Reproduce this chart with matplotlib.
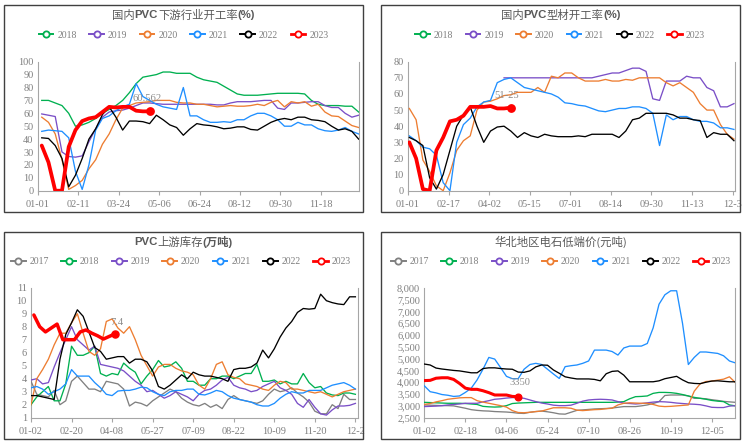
import numpy as np
import matplotlib
matplotlib.use("Agg")
import matplotlib.pyplot as plt
from matplotlib.lines import Line2D
from matplotlib.patches import Rectangle

nan = np.nan

# ---- 国内PVC下游行业开工率(%) ----
tl_years = ["2018", "2019", "2020", "2021", "2022", "2023"]
tl_ticks = ["01-01", "02-11", "03-24", "05-06", "06-24", "08-12", "09-30", "11-18"]
tl_2018 = [70, 70, 68, 66, 60, 50, 51, 53, 56, 60, 63, 66, 70, 76, 83, 88, 89, 90, 92, 92,
           91, 91, 91, 88, 86, 85, 84, 81, 78, 75, 74, 74, 74, 74.5, 75, 75.5, 75.5, 75.5,
           75.5, 75, 70, 67, 66, 66, 66, 65.5, 65.5, 61]
tl_2019 = [59.5, 58.5, 57.5, 30, 26.5, 26, 27, 38, 48, 57, 61, 62, 62.5, 64, 66, 68, 68, 67.5,
           67, 67, 67, 67, 67, 67, 67, 67, 66.5, 66.5, 68, 69, 69, 69, 69.5, 70, 70, 64, 63,
           68, 68, 68.5, 69, 69, 66, 64.5, 64.5, 60, 57, 58.5]
tl_2020 = [57, 53, 44, 24, 1, 4, 8, 17, 24, 36, 44, 55, 64, 66, 68, 68.5, 69, 70, 70, 70,
           68.5, 68, 68, 67, 67, 66, 65, 65.5, 66, 65.5, 65.5, 66, 67, 66, 68.5, 70, 65, 69,
           68, 69, 65.5, 67, 61, 58, 57.5, 54, 50.5, 49]
tl_2021 = [46, 47, 46.5, 46, 41, 15, 1, 20, 47, 56, 58, 62, 65, 67, 83, 73, 70, 67, 65, 64,
           63, 80, 58, 58, 55, 53, 53, 53.5, 53, 55, 55, 58, 60, 60, 58, 55, 50, 50, 53, 51,
           51, 48, 46.5, 46, 47, 49, 46, 44]
tl_2022 = [41, 40.5, 35, 25, 3, 12, 25, 40, 48, 59, 65, 57, 47, 54, 54, 53.5, 52, 58.5, 55, 51,
           49, 43, 48, 52, 51, 50.5, 49.5, 48, 48.5, 49.5, 49.5, 47.5, 47, 50, 53, 55, 56, 55,
           57, 57, 55, 54.5, 53.5, 50, 47, 48, 46, 40]
tl_2023 = [35, 22, 0, 0, 34, 47, 54, 56, 57, 61, 65, 64.5, 65, 65, 62, 61.5, 61.5]

# ---- 国内PVC型材开工率(%) ----
tr_years = ["2018", "2019", "2020", "2021", "2022", "2023"]
tr_ticks = ["01-01", "02-17", "04-02", "05-15", "07-01", "08-14", "09-30", "11-13", "12-3"]
tr_2018 = []
tr_2019 = [nan] * 14 + [70] * 14 + [71, 72, 73, 73, 74.5, 76, 76, 74, 57, 56, 68, 68, 68, 71,
                                    70, 70, 64, 62, 52, 52, 54]
tr_2020 = [51, 44, 19, 12, 3, 0, 11, 25, 31, 34, 50, 55, 55.5, 57, 59, 59.5, 61, 61, 61, 64,
           61, 71, 70, 73, 73, 70, 68, 68, 68, 69, 68, 68, 69, 68.5, 70, 70, 70, 70, 67, 65,
           67, 64, 61, 54, 50, 50, 41, 35, 32]
tr_2021 = [34, 31, 27, 26, 22, 5, 0, 30, 41, 45, 52, 55, 56, 67, 69, 70, 67, 64, 63, 62,
           61, 60, 58, 54.5, 54, 53, 52.5, 51, 49.5, 49, 50, 51, 51, 52, 52, 51, 48, 28, 47, 44,
           46, 46, 44, 43, 43, 42, 39, 39, 38]
tr_2022 = [33, 31, 28, 8, 1, 10, 25, 40, 47, 52, 40, 30, 37, 39.5, 40, 37, 33, 36, 34, 33,
           35, 34, 33.5, 33.5, 33.5, 34, 33.5, 35, 35, 35, 35, 33, 37, 44, 45, 48, 48, 48, 48, 47,
           45, 45, 44, 43.5, 33, 36, 35, 35, 31]
tr_2023 = [30, 20, 1, 0, 25, 33, 43, 44, 46.5, 52, 52, 52, 52.5, 51, 51, 51.5]

# ---- PVC上游库存(万吨) ----
bl_years = ["2017", "2018", "2019", "2020", "2021", "2022", "2023"]
bl_ticks = ["01-02", "02-20", "04-08", "05-27", "07-09", "08-22", "10-09", "11-20", "12-2"]
bl_2017 = [3.8, 2.8, 2.7, 2.6, 3.1, 2.0, 2.3, 3.8, 4.2, 3.7, 3.2, 3.2, 3.0, 3.8, 3.7, 3.6,
           3.2, 1.9, 2.2, 2.1, 1.9, 2.3, 2.6, 2.9, 3.2, 3.0, 2.5, 2.2, 2.0, 1.9, 2.1, 1.8, 2.0,
           1.7, 2.4, 2.7, 2.4, 2.3, 2.2, 2.1, 2.3, 2.8, 3.2, 3.0, 3.1, 3.3, 2.9, 2.6, 2.2, 1.5,
           1.3, 1.3, 2.0, 1.7, 2.8, 2.4, 2.4]
bl_2018 = [2.0, 2.6, 3.0, 3.4, 2.3, 2.3, 3.6, 6.5, 5.8, 5.8, 6.0, 6.5, 4.4, 4.2, 4.4, 4.3,
           5.2, 4.8, 4.5, 3.6, 4.2, 4.7, 5.4, 4.9, 5.0, 5.3, 4.8, 3.8, 3.8, 3.5, 3.5, 4.0, 4.0,
           4.2, 4.2, 4.0, 4.2, 4.4, 4.4, 5.1, 3.8, 3.8, 3.9, 3.6, 3.8, 3.6, 3.6, 4.4, 3.7, 3.3,
           3.4, 2.9, 2.75, 2.7, 2.9, 2.9, 2.8]
bl_2019 = [3.9, 4.0, 3.6, 3.7, 4.9, 6.0, 7.0, 8.0, 7.0, 6.6, 6.2, 6.5, 5.1, 5.0, 4.9, 4.8,
           4.6, 4.2, 3.8, 3.5, 3.0, 3.1, 2.8, 2.5, 2.7, 3.0, 2.8, 2.6, 2.3, 2.8, 3.1, 3.2, 3.5,
           3.9, 4.1, 3.5, 3.3, 3.2, 3.0, 3.1, 3.4, 3.6, 3.8, 3.3, 3.1, 2.8, 2.1, 1.8, 2.4, 1.8,
           1.3, 1.2, 1.6, 1.9, 1.9, 1.95, 2.1]
bl_2020 = [2.0, 4.0, 4.7, 5.5, 6.6, 7.5, 7.5, 8.3, 9.0, 7.5, 6.1, 5.8, 6.3, 8.4, 8.6, 7.9,
           7.5, 8.0, 7.0, 5.8, 5.0, 4.2, 4.9, 5.1, 5.1, 4.8, 4.6, 4.5, 4.3, 3.5, 3.2, 4.0, 5.1,
           5.3, 4.3, 4.1, 4.0, 3.6, 3.5, 3.4, 3.2, 3.1, 3.5, 3.8, 3.7, 3.2, 3.2, 3.1, 3.0, 2.9,
           3.0, 2.8, 2.6, 2.8, 3.0, 3.1, 3.2]
bl_2021 = [3.3, 3.4, 3.2, 2.8, 3.0, 3.2, 3.6, 4.7, 4.2, 4.2, 4.2, 3.7, 3.3, 2.8, 2.7, 3.05,
           3.1, 3.1, 3.2, 3.35, 3.3, 3.0, 2.8, 2.7, 3.0, 3.1, 3.1, 3.2, 3.2, 2.8, 2.75, 2.9, 3.1,
           3.0, 2.7, 2.5, 2.4, 2.3, 2.2, 2.0, 1.9, 1.9, 2.1, 2.5, 2.8, 3.0, 2.9, 2.9, 3.1, 3.1,
           3.1, 3.3, 3.5, 3.6, 3.7, 3.5, 3.2]
bl_2022 = [2.7, 2.7, 2.6, 2.5, 2.4, 5.5, 7.4, 8.3, 9.3, 8.8, 7.6, 6.4, 6.1, 5.5, 5.6, 5.7,
           5.7, 5.2, 5.5, 5.5, 5.3, 4.6, 3.4, 3.2, 3.5, 3.9, 4.3, 4.0, 4.5, 4.3, 4.2, 4.2, 4.1,
           4.0, 3.8, 4.7, 4.8, 4.8, 4.9, 5.2, 6.2, 5.6, 6.3, 7.2, 7.9, 8.4, 9.1, 9.4, 9.35, 9.4,
           10.5, 10.0, 9.85, 9.75, 9.7, 10.3, 10.3]
bl_2023 = [8.9, 8.0, 7.6, 7.9, 8.2, 7.0, 7.0, 7.0, 7.6, 7.75, 7.5, 7.3, 7.05, 7.25, 7.45]

# ---- 华北地区电石低端价(元吨) ----
br_years = ["2017", "2018", "2019", "2020", "2021", "2022", "2023"]
br_ticks = ["01-02", "02-18", "04-06", "05-24", "07-10", "08-26", "10-19", "12-05"]
br_2017 = [3040, 3030, 3020, 3010, 3010, 3000, 2950, 2900, 2840, 2810, 2790, 2780, 2760, 2750,
           2740, 2720, 2690, 2680, 2730, 2760, 2780, 2750, 2710, 2660, 2650, 2730, 2810, 2830,
           2850, 2870, 2880, 2890, 2910, 2940, 2970, 2970, 2970, 3000, 3040, 3100, 3180, 3440,
           3460, 3460, 3460, 3420, 3320, 3320, 3300, 3260, 3230, 3190, 3170, 3150]
br_2018 = [3150, 3140, 3130, 3120, 3110, 3110, 3110, 3100, 3080, 3060, 2980, 2960, 2950, 2960,
           3010, 3100, 3120, 3130, 3140, 3150, 3150, 3150, 3150, 3150, 3150, 3150, 3150, 3150,
           3150, 3150, 3150, 3150, 3150, 3160, 3180, 3300, 3390, 3400, 3420, 3530, 3570, 3570,
           3560, 3530, 3480, 3420, 3360, 3320, 3280, 3230, 3200, 3180, 3040, 3000]
br_2019 = [2970, 2980, 2990, 3010, 3040, 3060, 3080, 3110, 3110, 3110, 3170, 3220, 3280, 3300,
           3330, 3350, 3350, 3320, 3250, 3180, 3120, 3080, 3030, 3010, 3010, 3030, 3110, 3200,
           3250, 3270, 3280, 3270, 3250, 3180, 3110, 3100, 3080, 3100, 3130, 3160, 3180, 3170,
           3150, 3120, 3100, 3080, 3070, 3050, 3000, 2940, 2930, 2930, 2990, 3010]
br_2020 = [3060, 3100, 3170, 3220, 3280, 3310, 3340, 3350, 3350, 3220, 3160, 3110, 3060, 3010,
           2950, 2800, 2720, 2710, 2730, 2760, 2780, 2850, 2920, 2920, 2920, 2900, 2820, 2800,
           2820, 2840, 2850, 2880, 2900, 3040, 3110, 3130, 3120, 3110, 3110, 3060, 2990, 2970,
           2980, 3000, 3020, 3040, 3620, 3930, 4030, 4050, 4090, 4130, 4230, 3990]
br_2021 = [3850, 3600, 3550, 3480, 3450, 3400, 3420, 3570, 3750, 4100, 4550, 5050, 4980, 4620,
           4250, 4150, 4150, 4550, 4750, 4800, 4750, 4550, 4350, 4160, 4660, 4700, 4730, 4800,
           4900, 5360, 5360, 5360, 5300, 5150, 5450, 5530, 5530, 5530, 5640, 6300, 7300, 7700,
           7870, 7870, 6500, 4750, 5050, 5280, 5280, 5250, 5220, 5120, 4900, 4820]
br_2022 = [4770, 4730, 4600, 4560, 4530, 4500, 4480, 4440, 4400, 4400, 4580, 4610, 4610, 4580,
           4560, 4550, 4430, 4420, 4480, 4650, 4730, 4720, 4520, 4380, 4230, 4180, 4140, 4140,
           4140, 4120, 4060, 4360, 4460, 4480, 4300, 4020, 4020, 4020, 4020, 4020, 4060, 4150,
           4200, 4250, 4100, 3980, 3950, 3940, 4000, 4050, 4060, 4040, 4020, 4020]
br_2023 = [4070, 4080, 4170, 4190, 4190, 4120, 3950, 3750, 3700, 3700, 3640, 3560, 3460, 3460,
           3460, 3400, 3390]

COLORS = {"2017": "#808080", "2018": "#00b050", "2019": "#7a4fc7", "2020": "#ed7d31",
          "2021": "#1f8fff", "2022": "#000000", "2023": "#ff0000"}
TXT = "#7f7f7f"
TITLE_C = "#595959"
AXC = "#a6a6a6"
SERIF = ["Liberation Serif", "DejaVu Serif"]
CJK = ["Noto Sans CJK SC", "DejaVu Sans"]
BOLD = ["Liberation Sans", "Noto Sans CJK SC", "DejaVu Sans"]

W, H = 745, 442
fig = plt.figure(figsize=(W / 100, H / 100), dpi=100)
fig.patch.set_facecolor("white")


def px_axes(x0, y0, x1, y1):
    return fig.add_axes([x0 / W, 1 - y1 / H, (x1 - x0) / W, (y1 - y0) / H])


def frame(x0, y0, x1, y1):
    fig.add_artist(Rectangle((x0 / W, 1 - y1 / H), (x1 - x0) / W, (y1 - y0) / H,
                             transform=fig.transFigure, fill=False,
                             ec="#404040", lw=1.0))


def rich_title(cx, cy, parts):
    # title pieces in different weights, laid out one after the other
    r = fig.canvas.get_renderer()
    texts = []
    for s, bold in parts:
        t = fig.text(0, 1 - cy / H, s, fontsize=8.2, color=TITLE_C,
                     family=BOLD if bold else CJK,
                     fontweight="bold" if bold else "normal",
                     ha="left", va="center")
        texts.append(t)
    widths = [t.get_window_extent(r).width for t in texts]
    x = cx - sum(widths) / 2
    for t, w in zip(texts, widths):
        t.set_x(x / W)
        x += w


def legend(cx, cy, years):
    handles = [Line2D([], [], color=COLORS[y], lw=2.0 if y == "2023" else 1.4,
                      marker="o", ms=4.5, mfc="white", mec=COLORS[y], mew=1.3)
               for y in years]
    fig.legend(handles, years, loc="center", bbox_to_anchor=(cx / W, 1 - cy / H),
               ncol=len(years), frameon=False, handlelength=1.5, handletextpad=0.4,
               columnspacing=1.3, prop=dict(family=SERIF, size=7), labelcolor=TXT)


def style(ax, xlim, ylim, yticks, xticks, xlabels, yfmt="{:g}"):
    ax.set_xlim(*xlim)
    ax.set_ylim(*ylim)
    for side in ["left", "bottom", "right"]:
        ax.spines[side].set_color(AXC)
        ax.spines[side].set_linewidth(0.8)
    ax.spines["top"].set_visible(False)
    ax.set_yticks(yticks)
    ax.set_yticklabels([yfmt.format(v) for v in yticks])
    ax.set_xticks(xticks)
    ax.set_xticklabels(xlabels)
    ax.tick_params(axis="y", length=0, pad=3, labelsize=7.4, labelcolor=TXT)
    ax.tick_params(axis="x", length=3, width=0.8, color=AXC, pad=4,
                   labelsize=7.4, labelcolor=TXT)
    for lab in ax.get_xticklabels() + ax.get_yticklabels():
        lab.set_family(SERIF)
    ax.set_facecolor("none")


def draw_lines(ax, series, red_lw, red_shift=0.0):
    for year, vals in series:
        if len(vals) == 0:
            continue
        vals = np.asarray(vals, dtype=float)
        x = np.arange(len(vals))
        if year == "2023":
            x = x + red_shift
            ax.plot(x, vals, color=COLORS[year], lw=red_lw, zorder=5,
                    solid_joinstyle="round", solid_capstyle="round")
            ax.plot(x[-1], vals[-1], "o", color=COLORS[year], ms=red_lw + 2.6, zorder=6)
        else:
            ax.plot(x, vals, color=COLORS[year], lw=0.95, zorder=3)
    return x[-1], vals[-1]


def end_label(ax, pt, text, dx, dy):
    ax.annotate(text, pt, xytext=(dx, dy), textcoords="offset points",
                ha="center", va="center", fontsize=7.6, color="#8c8c8c",
                family=SERIF, zorder=7)


# panel frames
frame(4, 5, 363, 212)
frame(381, 5, 740, 212)
frame(4, 232, 363, 439)
frame(381, 232, 740, 439)

# top left
ax = px_axes(37.7, 61.7, 359.3, 190.7)
style(ax, (-0.6, 47.1), (0, 100), np.arange(0, 101, 10),
      np.arange(len(tl_ticks)) * 6 - 0.6, tl_ticks)
pt = draw_lines(ax, zip(tl_years, [tl_2018, tl_2019, tl_2020, tl_2021, tl_2022, tl_2023]), 2.7)
end_label(ax, pt, "60.562", -2, 9)
rich_title(183.5, 15, [("国内", False), ("PVC", True), ("下游行业开工率", False), ("(%)", True)])
legend(183.5, 35, tl_years)

# top right
ax = px_axes(408, 61.7, 735.3, 190.7)
style(ax, (-0.2, 48.2), (0, 80), np.arange(0, 81, 10),
      np.arange(len(tr_ticks)) * 6 - 0.2, tr_ticks)
pt = draw_lines(ax, zip(tr_years, [tr_2018, tr_2019, tr_2020, tr_2021, tr_2022, tr_2023]), 2.7)
end_label(ax, pt, "51-25", -3, 9)
rich_title(561, 15, [("国内", False), ("PVC", True), ("型材开工率", False), ("(%)", True)])
legend(560, 35, tr_years)

# bottom left
ax = px_axes(31, 287.7, 358.3, 417.7)
style(ax, (0, 56.5), (1, 11), np.arange(1, 12, 1),
      np.arange(len(bl_ticks)) * 7, bl_ticks)
pt = draw_lines(ax, zip(bl_years, [bl_2017, bl_2018, bl_2019, bl_2020, bl_2021, bl_2022,
                                   bl_2023]), 2.5, red_shift=0.5)
end_label(ax, pt, "7.4", 1.5, 8.5)
rich_title(183.5, 242, [("PVC", True), ("上游库存", False), ("(万吨)", True)])
legend(181, 262, bl_years)

# bottom right
ax = px_axes(424.3, 287.7, 735.3, 417.7)
style(ax, (0, 53), (2500, 8000), np.arange(2500, 8001, 500),
      np.arange(len(br_ticks)) * 7, br_ticks, yfmt="{:,}")
pt = draw_lines(ax, zip(br_years, [br_2017, br_2018, br_2019, br_2020, br_2021, br_2022,
                                   br_2023]), 2.2)
end_label(ax, pt, "3350", 1, 10)
rich_title(561, 242, [("华北地区电石低端价(元吨)", False)])
legend(561, 262, br_years)

fig.savefig("out.png", dpi=100)
